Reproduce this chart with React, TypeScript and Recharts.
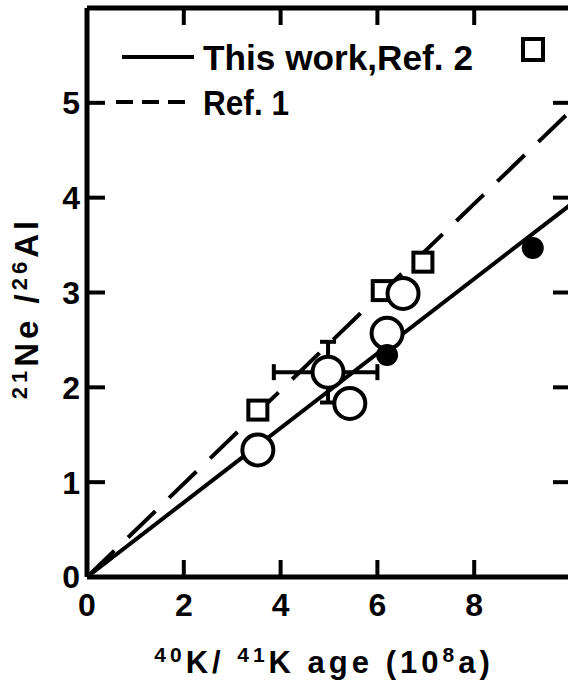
import React from 'react'
import { ScatterChart, Scatter, XAxis, YAxis, ErrorBar, Legend } from 'recharts'

const FONT = '"Liberation Sans", Arial, sans-serif'

const xTicks = [0, 2, 4, 6, 8]
const yTicks = [0, 1, 2, 3, 4, 5]
const topTicks = [2, 4, 6, 8]
const rightTicks = [1, 2, 3, 4, 5]

// fitted lines through the origin
const thisWorkFit = [{ x: 0, y: 0 }, { x: 10, y: 3.93 }]
const ref1Fit = [{ x: 0, y: 0 }, { x: 10, y: 4.92 }]

const thisWorkPoints = [
  { x: 3.53, y: 1.34 },
  { x: 5.43, y: 1.83 },
  { x: 6.2, y: 2.57 },
  { x: 6.53, y: 2.99 },
]
const thisWorkWithErr = [{ x: 4.98, y: 2.16, ex: [1.12, 1.02], ey: 0.32 }]
const ref2Points = [
  { x: 6.2, y: 2.34 },
  { x: 9.21, y: 3.47 },
]
const ref1Points = [
  { x: 3.53, y: 1.76 },
  { x: 6.1, y: 3.02 },
  { x: 6.94, y: 3.32 },
]

const legendLabels = ['This work,Ref. 2', 'Ref. 1']

const OpenCircle = (p: any) => (
  <circle cx={p.cx} cy={p.cy} r={15.5} fill="#fff" stroke="#000" strokeWidth={4} />
)
const FilledDot = (p: any) => <circle cx={p.cx} cy={p.cy} r={11} fill="#000" />
const OpenSquare = (p: any) => (
  <rect x={p.cx - 9.5} y={p.cy - 9.5} width={19} height={19} fill="#fff" stroke="#000" strokeWidth={4} />
)
const NoShape = () => <g />
const NoTickLabel = () => <g />

const tickStyle = { fontSize: 32, fontFamily: FONT, fontWeight: 700, fill: '#000' }

function XTitle(props: any) {
  const vb = props.viewBox || { x: 87, y: 577, width: 484 }
  const cx = vb.x + vb.width / 2 - 5
  return (
    <text x={cx} y={673} textAnchor="middle" fontFamily={FONT} fontWeight={700} fontSize={31} letterSpacing={4} fill="#000">
      <tspan fontSize={21} dy={-11}>40</tspan>
      <tspan dy={11}>K/ </tspan>
      <tspan fontSize={21} dy={-11}>41</tspan>
      <tspan dy={11}>K age (10</tspan>
      <tspan fontSize={21} dy={-11}>8</tspan>
      <tspan dy={11}>a)</tspan>
    </text>
  )
}

function YTitle() {
  return (
    <text x={38} y={308} transform="rotate(-90, 38, 308)" textAnchor="middle" fontFamily={FONT} fontWeight={700} fontSize={33} letterSpacing={4} fill="#000">
      <tspan fontSize={22} dy={-11}>21</tspan>
      <tspan dy={11}>Ne /</tspan>
      <tspan fontSize={22} dy={-11}>26</tspan>
      <tspan dy={11}>Al</tspan>
    </text>
  )
}

function LegendBox() {
  return (
    <svg width={568} height={130} style={{ display: 'block' }}>
      <line x1={122} y1={57} x2={194} y2={57} stroke="#000" strokeWidth={4} />
      <text x={203} y={70} fontFamily={FONT} fontWeight={700} fontSize={35} textLength={270} lengthAdjust="spacingAndGlyphs">
        {legendLabels[0]}
      </text>
      <line x1={116} y1={102} x2={190} y2={102} stroke="#000" strokeWidth={4} strokeDasharray="17 9" />
      <text x={203} y={115} fontFamily={FONT} fontWeight={700} fontSize={35} textLength={86} lengthAdjust="spacingAndGlyphs">
        {legendLabels[1]}
      </text>
      <rect x={523} y={39} width={20} height={21} fill="#fff" stroke="#000" strokeWidth={4} />
    </svg>
  )
}

export default function App() {
  return (
    <div style={{ position: 'absolute', left: 0, top: 0, width: 568, height: 683, overflow: 'hidden', background: '#fff' }}>
      <ScatterChart width={574} height={683} margin={{ top: 7, right: 2, bottom: 46, left: 27 }}>
        <XAxis
          dataKey="x"
          type="number"
          domain={[0, 10]}
          allowDataOverflow
          ticks={xTicks}
          height={60}
          axisLine={{ stroke: '#000', strokeWidth: 5 }}
          tickLine={{ stroke: '#000', strokeWidth: 4 }}
          tickSize={-17}
          tickMargin={33}
          tick={tickStyle}
          label={(p: any) => <XTitle {...p} />}
        />
        <XAxis
          xAxisId="top"
          orientation="top"
          dataKey="x"
          type="number"
          domain={[0, 10]}
          allowDataOverflow
          ticks={topTicks}
          height={1}
          axisLine={{ stroke: '#000', strokeWidth: 5 }}
          tickLine={{ stroke: '#000', strokeWidth: 4 }}
          tickSize={-17}
          tick={NoTickLabel}
        />
        <YAxis
          dataKey="y"
          type="number"
          domain={[0, 6]}
          allowDataOverflow
          ticks={yTicks}
          width={60}
          axisLine={{ stroke: '#000', strokeWidth: 5 }}
          tickLine={{ stroke: '#000', strokeWidth: 4 }}
          tickSize={-18}
          tickMargin={25}
          tick={tickStyle}
          label={() => <YTitle />}
        />
        <YAxis
          yAxisId="right"
          orientation="right"
          dataKey="y"
          type="number"
          domain={[0, 6]}
          allowDataOverflow
          ticks={rightTicks}
          width={1}
          axisLine={{ stroke: '#000', strokeWidth: 5 }}
          tickLine={{ stroke: '#000', strokeWidth: 4 }}
          tickSize={-18}
          tick={NoTickLabel}
        />
        <Legend
          layout="horizontal"
          align="center"
          verticalAlign="middle"
          wrapperStyle={{ left: 0, top: 0, width: 568, height: 130 }}
          content={() => <LegendBox />}
        />
        <Scatter name="Ref. 1 fit" data={ref1Fit} shape={NoShape} legendType="none"
          line={{ stroke: '#000', strokeWidth: 4, strokeDasharray: '38 19' }} isAnimationActive={false} />
        <Scatter name="This work fit" data={thisWorkFit} shape={NoShape} legendType="none"
          line={{ stroke: '#000', strokeWidth: 4 }} isAnimationActive={false} />
        <Scatter name="Ref. 1" data={ref1Points} shape={OpenSquare} isAnimationActive={false} />
        <Scatter name="This work" data={thisWorkWithErr} shape={OpenCircle} isAnimationActive={false}>
          <ErrorBar dataKey="ex" direction="x" width={8} stroke="#000" strokeWidth={4} isAnimationActive={false} />
          <ErrorBar dataKey="ey" direction="y" width={8} stroke="#000" strokeWidth={4} isAnimationActive={false} />
        </Scatter>
        <Scatter name="This work " data={thisWorkPoints} shape={OpenCircle} isAnimationActive={false} />
        <Scatter name="Ref. 2" data={ref2Points} shape={FilledDot} isAnimationActive={false} />
      </ScatterChart>
    </div>
  )
}
